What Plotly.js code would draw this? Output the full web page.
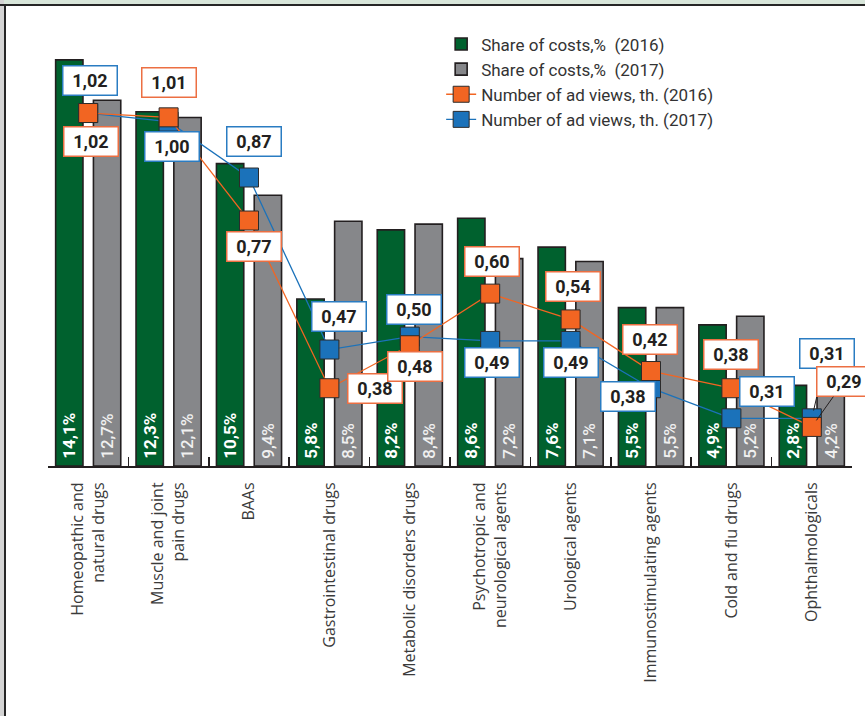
<!DOCTYPE html>
<html>
<head>
<meta charset="utf-8">
<script src="https://cdn.plot.ly/plotly-3.0.1.min.js"></script>
<style>
  html, body { margin: 0; padding: 0; background: #ffffff; }
  #wrap { position: relative; width: 865px; height: 716px; overflow: hidden; background: #ffffff; }
  #chart { position: absolute; left: 0; top: 0; width: 865px; height: 716px; }
  .band-top { position: absolute; left: 0; top: 0; width: 865px; height: 4px; background: #d8e6da; z-index: 5; }
  .rule-top { position: absolute; left: 0; top: 4px; width: 865px; height: 2px; background: #262626; z-index: 5; }
  .band-left { position: absolute; left: 0; top: 0; width: 4px; height: 716px; background: #d4d4d4; z-index: 5; }
  .rule-left { position: absolute; left: 4px; top: 4px; width: 2px; height: 712px; background: #262626; z-index: 6; }
</style>
</head>
<body>
<div id="wrap">
  <div id="chart"></div>
  <div class="band-top"></div>
  <div class="band-left"></div>
  <div class="rule-top"></div>
  <div class="rule-left"></div>
</div>
<script>
// Drug categories and their axis labels
const categories = [
  'Homeopathic and natural drugs', 'Muscle and joint pain drugs', 'BAAs',
  'Gastrointestinal drugs', 'Metabolic disorders drugs', 'Psychotropic and neurological agents',
  'Urological agents', 'Immunostimulating agents', 'Cold and flu drugs', 'Ophthalmologicals'
];
const tickLabels = [
  'Homeopathic and<br>natural drugs', 'Muscle and joint<br>pain drugs', 'BAAs',
  'Gastrointestinal drugs', 'Metabolic disorders drugs', 'Psychotropic and<br>neurological agents',
  'Urological agents', 'Immunostimulating agents', 'Cold and flu drugs', 'Ophthalmologicals'
];

// Share of advertising costs, %
const share2016 = [14.1, 12.3, 10.5, 5.8, 8.2, 8.6, 7.6, 5.5, 4.9, 2.8];
const share2017 = [12.7, 12.1, 9.4, 8.5, 8.4, 7.2, 7.1, 5.5, 5.2, 4.2];

// Number of ad views, thousands
const views2016 = [1.02, 1.01, 0.77, 0.38, 0.48, 0.60, 0.54, 0.42, 0.38, 0.29];
const views2017 = [1.02, 1.00, 0.87, 0.47, 0.50, 0.49, 0.49, 0.38, 0.31, 0.31];

// Pixel offsets of each value box relative to its marker [dx, dy(up)]
const boxShift2016 = [[3, -28], [0, 35], [5, -26], [46, 0], [5, -21], [2, 32], [2, 33], [-1, 32], [0, 34], [32, 45]];
const boxShift2017 = [[2, 33], [3, -25], [5, 36], [10, 33], [4, 27], [2, -22], [0, -22], [-23, -8], [36, 27], [15, 65]];

const GREEN = '#00612e', GREY = '#86878a', INK = '#231f20';
const ORANGE = '#f26522', BLUE = '#1b72ba';
const ORANGE_BOX = '#ec6f42', BLUE_BOX = '#2a7cc2';
const FONT = 'Roboto, "Open Sans", "Noto Sans", sans-serif';
const TICK_FONT = '"Open Sans", Roboto, "Noto Sans", sans-serif';

const pct = v => v.toFixed(1).replace('.', ',') + '%';
const num = v => v.toFixed(2).replace('.', ',');

const barCommon = {
  type: 'bar',
  x: categories,
  width: 0.34,
  textposition: 'inside',
  insidetextanchor: 'start',
  textangle: -90,
  constraintext: 'none',
  hoverinfo: 'skip'
};

const traces = [
  Object.assign({}, barCommon, {
    name: 'Share of costs,%\u00a0 (2016)',
    y: share2016,
    offset: -0.405,
    text: share2016.map(v => '\u00a0' + pct(v)),
    textfont: { family: FONT, size: 17, color: '#ffffff', weight: 700 },
    marker: { color: GREEN, line: { color: INK, width: 1.6 } },
    legendrank: 1
  }),
  Object.assign({}, barCommon, {
    name: 'Share of costs,%\u00a0 (2017)',
    y: share2017,
    offset: 0.065,
    text: share2017.map(v => '\u00a0' + pct(v)),
    textfont: { family: FONT, size: 17, color: '#f0f0f0', weight: 500 },
    marker: { color: GREY, line: { color: INK, width: 1.6 } },
    legendrank: 2
  }),
  {
    type: 'scatter', mode: 'lines+markers',
    name: 'Number of ad views, th. (2017)',
    x: categories, y: views2017, yaxis: 'y2',
    line: { color: BLUE, width: 1.3 },
    marker: { symbol: 'square', size: 19, color: BLUE, line: { color: '#2b2b2b', width: 1 } },
    legendrank: 4, hoverinfo: 'skip', cliponaxis: false
  },
  {
    type: 'scatter', mode: 'lines+markers',
    name: 'Number of ad views, th. (2016)',
    x: categories, y: views2016, yaxis: 'y2',
    line: { color: ORANGE, width: 1.3 },
    marker: { symbol: 'square', size: 19, color: ORANGE, line: { color: '#2b2b2b', width: 1 } },
    legendrank: 3, hoverinfo: 'skip', cliponaxis: false
  }
];

// Value boxes for the two view series
function valueBoxes(values, shifts, border, arrowIdx) {
  return values.map((v, i) => {
    const a = {
      x: categories[i], y: v, xref: 'x', yref: 'y2',
      text: num(v),
      font: { family: FONT, size: 18, color: INK, weight: 700 },
      bgcolor: '#ffffff', bordercolor: border, borderwidth: 1.5, borderpad: 1,
      width: 51, height: 26, align: 'center', valign: 'middle'
    };
    if (i === arrowIdx) {
      a.showarrow = true;
      a.ax = shifts[i][0];
      a.ay = -shifts[i][1];
      a.arrowhead = 0;
      a.arrowwidth = 1;
      a.arrowcolor = INK;
      a.standoff = 8;
    } else {
      a.showarrow = false;
      a.xshift = shifts[i][0];
      a.yshift = shifts[i][1];
    }
    return a;
  });
}

const annotations = []
  .concat(valueBoxes(views2017, boxShift2017, BLUE_BOX, 9))
  .concat(valueBoxes(views2016, boxShift2016, ORANGE_BOX, 9));

const layout = {
  width: 865, height: 716,
  margin: { l: 48, r: 13, t: 30, b: 250, pad: 0 },
  paper_bgcolor: 'rgba(0,0,0,0)',
  plot_bgcolor: 'rgba(0,0,0,0)',
  barmode: 'group',
  showlegend: true,
  legend: {
    x: 0.489, y: 1.008, xanchor: 'left', yanchor: 'top',
    font: { family: FONT, size: 17, color: '#333333' },
    bgcolor: 'rgba(0,0,0,0)', itemwidth: 30, tracegroupgap: 0,
    traceorder: 'normal'
  },
  xaxis: {
    type: 'category',
    categoryorder: 'array', categoryarray: categories,
    tickvals: categories, ticktext: tickLabels,
    range: [-0.5, 9.5],
    tickangle: -90,
    ticks: 'inside', tickson: 'boundaries', ticklen: 9, tickwidth: 1.5, tickcolor: INK,
    showline: true, linecolor: INK, linewidth: 2,
    showgrid: false, zeroline: false,
    ticklabelstandoff: 8,
    tickfont: { family: TICK_FONT, size: 16, color: '#3a3a3a' },
    fixedrange: true
  },
  yaxis: {
    range: [0, 15.139],
    showticklabels: false, showgrid: false, zeroline: false, showline: false, ticks: '',
    fixedrange: true
  },
  yaxis2: {
    overlaying: 'y', side: 'right',
    range: [0.1991, 1.2131],
    showticklabels: false, showgrid: false, zeroline: false, showline: false, ticks: '',
    fixedrange: true
  },
  annotations: annotations
};

Plotly.newPlot('chart', traces, layout, { displayModeBar: false, staticPlot: true });
</script>
</body>
</html>
